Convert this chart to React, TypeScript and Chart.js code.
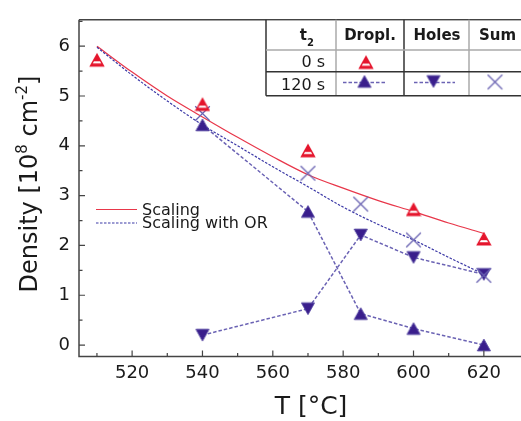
import React, { useEffect, useRef } from "react";
import { Chart, registerables } from "chart.js";

Chart.register(...registerables);

// ---------- data ----------
const scalingT = [510, 520, 530, 540, 550, 560, 570, 580, 590, 600, 610, 620];
const scalingVals = [6.0, 5.48, 5.0, 4.58, 4.17, 3.78, 3.42, 3.15, 2.9, 2.68, 2.45, 2.24];
const scalingOrVals = [5.98, 5.42, 4.9, 4.42, 4.0, 3.58, 3.18, 2.77, 2.42, 2.11, 1.76, 1.42];

const dropl0T = [510, 540, 570, 600, 620];
const dropl0Vals = [5.72, 4.83, 3.9, 2.72, 2.13];

const t120 = [540, 570, 585, 600, 620];
const dropl120Vals = [4.42, 2.68, 0.63, 0.33, 0.0];
const holes120Vals = [0.2, 0.73, 2.21, 1.76, 1.42];
const sum120Vals = [4.65, 3.45, 2.83, 2.11, 1.4];

const legendLabels = ["Scaling", "Scaling with OR"];
const tableHeaders = ["Dropl.", "Holes", "Sum"];
const tableRowLabels = ["0 s", "120 s"];
const xTitle = "T [°C]";
const yTitleParts: [string, boolean][] = [
  ["Density [10", false],
  ["8", true],
  [" cm", false],
  ["-2", true],
  ["]", false],
];

// ---------- styles ----------
const FONT = '"DejaVu Sans", "Liberation Sans", sans-serif';
const RED = "#e5152c";
const RED_LINE = "#e8374a";
const INDIGO = "#3a1e8c";
const DASH_BLUE = "#6b63b4";
const OR_BLUE = "#3b38a6";
const AXIS = "#444";

function makeTriangle(down: boolean, fill: string, stroke: string, stripe: boolean) {
  const c = document.createElement("canvas");
  c.width = 16;
  c.height = 16;
  const g = c.getContext("2d")!;
  const w = 13, h = 11.6, cx = 8, cy = 8;
  const top = cy - h / 2, bot = cy + h / 2;
  g.beginPath();
  if (!down) {
    g.moveTo(cx, top);
    g.lineTo(cx + w / 2, bot);
    g.lineTo(cx - w / 2, bot);
  } else {
    g.moveTo(cx, bot);
    g.lineTo(cx + w / 2, top);
    g.lineTo(cx - w / 2, top);
  }
  g.closePath();
  g.fillStyle = fill;
  g.fill();
  if (stripe) {
    g.save();
    g.clip();
    g.fillStyle = "#fff";
    g.fillRect(0, top + h * 0.6, 16, h * 0.18);
    g.restore();
    g.lineWidth = 1.4;
  } else {
    g.lineWidth = 1;
  }
  g.strokeStyle = stroke;
  g.stroke();
  return c;
}

function makeX() {
  const c = document.createElement("canvas");
  c.width = 17;
  c.height = 17;
  const g = c.getContext("2d")!;
  g.strokeStyle = "#6a63b2";
  g.lineWidth = 1.3;
  g.beginPath();
  g.moveTo(1.2, 1.2);
  g.lineTo(15.8, 15.8);
  g.moveTo(15.8, 1.2);
  g.lineTo(1.2, 15.8);
  g.stroke();
  return c;
}

const pts = (xs: number[], ys: number[]) => xs.map((x, i) => ({ x, y: ys[i] }));

export default function App() {
  const ref = useRef<HTMLCanvasElement>(null);

  useEffect(() => {
    const canvas = ref.current!;
    const redTri = makeTriangle(false, RED, RED, true);
    const upTri = makeTriangle(false, INDIGO, "#4b3a9c", false);
    const downTri = makeTriangle(true, INDIGO, "#4b3a9c", false);
    const xMark = makeX();

    const drawImg = (ctx: CanvasRenderingContext2D, img: HTMLCanvasElement, x: number, y: number) => {
      ctx.drawImage(img, x - img.width / 2, y - img.height / 2);
    };

    const decor = {
      id: "decor",
      afterDraw(chart: any) {
        const ctx: CanvasRenderingContext2D = chart.ctx;
        const a = chart.chartArea;
        const xs = chart.scales.x;
        const ys = chart.scales.y;
        const W = chart.width;
        ctx.save();

        // frame
        ctx.strokeStyle = AXIS;
        ctx.lineWidth = 1.5;
        ctx.setLineDash([]);
        ctx.beginPath();
        ctx.moveTo(a.left, a.top);
        ctx.lineTo(a.left, a.bottom);
        ctx.lineTo(W, a.bottom);
        ctx.moveTo(a.left, a.top);
        ctx.lineTo(W, a.top);
        ctx.stroke();

        // ticks (inside)
        ctx.lineWidth = 1.2;
        ctx.beginPath();
        const yt = ys.ticks.map((t: any) => t.value);
        yt.forEach((v: number) => {
          const p = ys.getPixelForValue(v);
          ctx.moveTo(a.left, p);
          ctx.lineTo(a.left + 6, p);
          const m = v + 0.5;
          if (m < ys.max) {
            const pm = ys.getPixelForValue(m);
            ctx.moveTo(a.left, pm);
            ctx.lineTo(a.left + 3.5, pm);
          }
        });
        const xt = xs.ticks.map((t: any) => t.value);
        xt.forEach((v: number) => {
          const p = xs.getPixelForValue(v);
          ctx.moveTo(p, a.bottom);
          ctx.lineTo(p, a.bottom - 6);
          const m = v - 10;
          if (m > xs.min) {
            const pm = xs.getPixelForValue(m);
            ctx.moveTo(pm, a.bottom);
            ctx.lineTo(pm, a.bottom - 3.5);
          }
        });
        ctx.stroke();

        // axis titles
        ctx.fillStyle = "#1a1a1a";
        ctx.font = `25px ${FONT}`;
        ctx.textAlign = "center";
        ctx.textBaseline = "alphabetic";
        ctx.fillText(xTitle, 311, 414);

        ctx.save();
        ctx.translate(37, 184);
        ctx.rotate(-Math.PI / 2);
        const big = 24, small = 15;
        let total = 0;
        yTitleParts.forEach(([s, sup]) => {
          ctx.font = `${sup ? small : big}px ${FONT}`;
          total += ctx.measureText(s).width;
        });
        let cx = -total / 2;
        ctx.textAlign = "left";
        yTitleParts.forEach(([s, sup]) => {
          ctx.font = `${sup ? small : big}px ${FONT}`;
          ctx.fillText(s, cx, sup ? -10 : 0);
          cx += ctx.measureText(s).width;
        });
        ctx.restore();

        // legend
        const ds = chart.data.datasets;
        const legY = [209.5, 223];
        [0, 1].forEach((i) => {
          const d = ds[i];
          ctx.strokeStyle = d.borderColor;
          ctx.lineWidth = 1.2;
          ctx.setLineDash(d.borderDash || []);
          ctx.beginPath();
          ctx.moveTo(96, legY[i]);
          ctx.lineTo(137, legY[i]);
          ctx.stroke();
          ctx.setLineDash([]);
          ctx.fillStyle = "#1a1a1a";
          ctx.font = `16px ${FONT}`;
          ctx.textAlign = "left";
          ctx.textBaseline = "middle";
          ctx.fillText(legendLabels[i], 142, legY[i] + 1);
        });

        // table
        const tl = 266, tTop = a.top, rowY = [50, 71.7, 95.7], cols = [336, 404, 469];
        ctx.fillStyle = "#fff";
        ctx.fillRect(tl, tTop + 1, W - tl, rowY[2] - tTop - 1);
        const line = (x1: number, y1: number, x2: number, y2: number, c: string) => {
          ctx.strokeStyle = c;
          ctx.lineWidth = 1.5;
          ctx.beginPath();
          ctx.moveTo(x1, y1);
          ctx.lineTo(x2, y2);
          ctx.stroke();
        };
        line(tl, tTop, tl, rowY[2], "#333");
        line(cols[0], tTop, cols[0], rowY[2], "#aaa");
        line(cols[1], tTop, cols[1], rowY[2], "#333");
        line(cols[2], tTop, cols[2], rowY[2], "#aaa");
        line(tl, rowY[0], W, rowY[0], "#aaa");
        line(tl, rowY[1], W, rowY[1], "#333");
        line(tl, rowY[2], W, rowY[2], "#333");

        ctx.fillStyle = "#1a1a1a";
        ctx.textBaseline = "alphabetic";
        ctx.textAlign = "right";
        ctx.font = `bold 15px ${FONT}`;
        ctx.fillText("t", 307, 39.5);
        ctx.font = `bold 10px ${FONT}`;
        ctx.textAlign = "left";
        ctx.fillText("2", 307, 46);
        ctx.font = `bold 15px ${FONT}`;
        ctx.textAlign = "center";
        const centers = [370, 437, 497.5];
        tableHeaders.forEach((h, i) => ctx.fillText(h, centers[i], 39.5));
        ctx.font = `16px ${FONT}`;
        ctx.textAlign = "right";
        ctx.fillText(tableRowLabels[0], 325, 66.5);
        ctx.fillText(tableRowLabels[1], 325, 90);

        drawImg(ctx, redTri, 366, 62.5);
        ctx.strokeStyle = DASH_BLUE;
        ctx.lineWidth = 1.4;
        ctx.setLineDash([3.5, 2]);
        ctx.beginPath();
        ctx.moveTo(343, 82.5);
        ctx.lineTo(386, 82.5);
        ctx.moveTo(414, 82.5);
        ctx.lineTo(455, 82.5);
        ctx.stroke();
        ctx.setLineDash([]);
        drawImg(ctx, upTri, 364.5, 81.5);
        drawImg(ctx, downTri, 433.5, 81.5);
        drawImg(ctx, xMark, 495, 82);

        ctx.restore();
      },
    };

    const chart = new Chart(canvas, {
      type: "scatter",
      data: {
        datasets: [
          {
            label: legendLabels[0],
            data: pts(scalingT, scalingVals),
            showLine: true,
            borderColor: RED_LINE,
            borderWidth: 1.2,
            pointRadius: 0,
            cubicInterpolationMode: "monotone",
            order: 6,
          },
          {
            label: legendLabels[1],
            data: pts(scalingT, scalingOrVals),
            showLine: true,
            borderColor: OR_BLUE,
            borderWidth: 1.2,
            borderDash: [2.5, 1.5],
            pointRadius: 0,
            cubicInterpolationMode: "monotone",
            order: 5,
          },
          {
            label: "Dropl. 0 s",
            data: pts(dropl0T, dropl0Vals),
            showLine: false,
            pointStyle: redTri,
            pointRadius: 7,
            order: 1,
          },
          {
            label: "Dropl. 120 s",
            data: pts(t120, dropl120Vals),
            showLine: true,
            borderColor: DASH_BLUE,
            borderWidth: 1.5,
            borderDash: [3.5, 2],
            pointStyle: upTri,
            pointRadius: 7,
            order: 3,
          },
          {
            label: "Holes 120 s",
            data: pts(t120, holes120Vals),
            showLine: true,
            borderColor: DASH_BLUE,
            borderWidth: 1.5,
            borderDash: [3.5, 2],
            pointStyle: downTri,
            pointRadius: 7,
            order: 4,
          },
          {
            label: "Sum 120 s",
            data: pts(t120, sum120Vals),
            showLine: false,
            pointStyle: xMark,
            pointRadius: 8,
            order: 2,
          },
        ],
      },
      options: {
        animation: false,
        responsive: false,
        devicePixelRatio: 1,
        layout: { padding: { top: 15, left: 0, right: 0, bottom: 0 } },
        plugins: { legend: { display: false }, tooltip: { enabled: false } },
        scales: {
          x: {
            type: "linear",
            min: 504.9,
            max: 628,
            grid: { display: false, drawTicks: false, tickLength: 0 },
            border: { display: false },
            ticks: {
              stepSize: 20,
              includeBounds: false,
              padding: 6,
              color: "#1a1a1a",
              font: { family: FONT, size: 18 },
              maxRotation: 0,
            },
            afterFit: (s: any) => {
              s.height = 64.5;
            },
          },
          y: {
            type: "linear",
            min: -0.23,
            max: 6.53,
            grid: { display: false, drawTicks: false, tickLength: 0 },
            border: { display: false },
            ticks: {
              stepSize: 1,
              includeBounds: false,
              padding: 9,
              color: "#1a1a1a",
              font: { family: FONT, size: 18 },
            },
            afterFit: (s: any) => {
              s.width = 79;
            },
          },
        },
      } as any,
      plugins: [decor],
    });
    return () => chart.destroy();
  }, []);

  return (
    <div style={{ position: "fixed", left: 0, top: 0, width: 521, height: 421, background: "#fff" }}>
      <canvas ref={ref} width={521} height={421} style={{ display: "block", width: 521, height: 421 }} />
    </div>
  );
}
